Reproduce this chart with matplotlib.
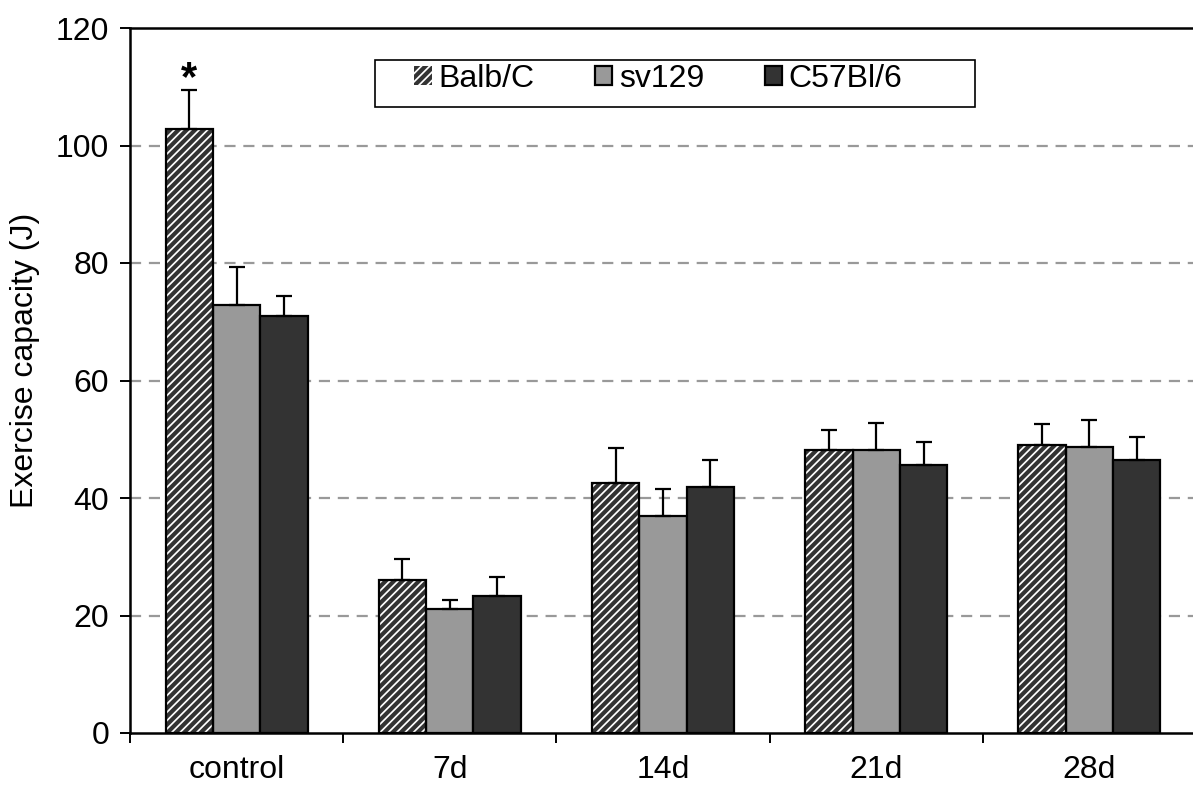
import matplotlib.pyplot as plt
from matplotlib.patches import Rectangle
import numpy as np

plt.rcParams['font.family'] = ['Liberation Sans', 'DejaVu Sans']
plt.rcParams['hatch.linewidth'] = 3.0

groups = ['control', '7d', '14d', '21d', '28d']
strains = ['Balb/C', 'sv129', 'C57Bl/6']
balb = [102.8, 26.0, 42.6, 48.2, 49.0]
balb_err = [6.6, 3.6, 5.9, 3.3, 3.6]
sv129 = [72.9, 21.1, 37.0, 48.2, 48.7]
sv129_err = [6.5, 1.6, 4.5, 4.6, 4.6]
c57 = [71.0, 23.3, 41.8, 45.6, 46.4]
c57_err = [3.4, 3.3, 4.7, 3.9, 4.0]

fig = plt.figure(figsize=(11.93, 7.88), dpi=100)
ax = fig.add_axes([130 / 1193, 55 / 788, 1066 / 1193, 705 / 788])

x = np.arange(len(groups)) + 0.5
w = 0.222
err_kw = dict(ecolor='black', elinewidth=1.6, capsize=6, capthick=1.6)

ax.bar(x - w, balb, w, yerr=[np.zeros(5), balb_err], color='white',
       edgecolor='#333333', hatch='////', linewidth=0, error_kw=err_kw,
       label=strains[0], zorder=3)
ax.bar(x - w, balb, w, fill=False, edgecolor='black', linewidth=1.6, zorder=4)
ax.bar(x, sv129, w, yerr=[np.zeros(5), sv129_err], color='#999999',
       edgecolor='black', linewidth=1.6, error_kw=err_kw, label=strains[1], zorder=3)
ax.bar(x + w, c57, w, yerr=[np.zeros(5), c57_err], color='#333333',
       edgecolor='black', linewidth=1.6, error_kw=err_kw, label=strains[2], zorder=3)

# significance marker over the control Balb/C bar
ax.text(x[0] - w, balb[0] + balb_err[0] - 1.5, '*', ha='center', va='bottom',
        fontsize=30, fontweight='bold')

ax.set_ylim(0, 120)
ax.set_xlim(0, 5)
ax.set_yticks(range(0, 121, 20))
ax.set_xticks(x)
ax.set_xticklabels(groups)
ax.set_xticks(np.arange(0, 6), minor=True)
ax.tick_params(axis='x', which='major', length=0, pad=16, labelsize=23)
ax.tick_params(axis='x', which='minor', length=7, width=1.4, direction='out')
ax.tick_params(axis='y', length=7, width=1.4, direction='out', labelsize=23, pad=8)

for v in range(20, 120, 20):
    ax.axhline(v, color='#999999', linestyle=(0, (5, 3.5)), linewidth=1.6, zorder=1)

ax.spines['right'].set_visible(False)
for s in ['left', 'bottom', 'top']:
    ax.spines[s].set_linewidth(1.8)

ax.set_ylabel('Exercise capacity (J)', fontsize=23)
ax.yaxis.set_label_coords(-0.084, 0.529)

# legend entries without frame, then a plain box around them
leg = ax.legend(loc='upper left', bbox_to_anchor=(284 / 1066, 1 - 36 / 705), ncol=3,
                fontsize=23, frameon=False, handlelength=0.55,
                handleheight=0.55, handletextpad=0.2, columnspacing=1.9,
                borderpad=0, borderaxespad=0)
ax.add_patch(Rectangle((245 / 1066, 1 - 79 / 705), 600 / 1066, 47 / 705,
                       transform=ax.transAxes, facecolor='white', edgecolor='black',
                       linewidth=1.2, zorder=4.5))
leg.set_zorder(6)

plt.savefig('out.png', dpi=100)
